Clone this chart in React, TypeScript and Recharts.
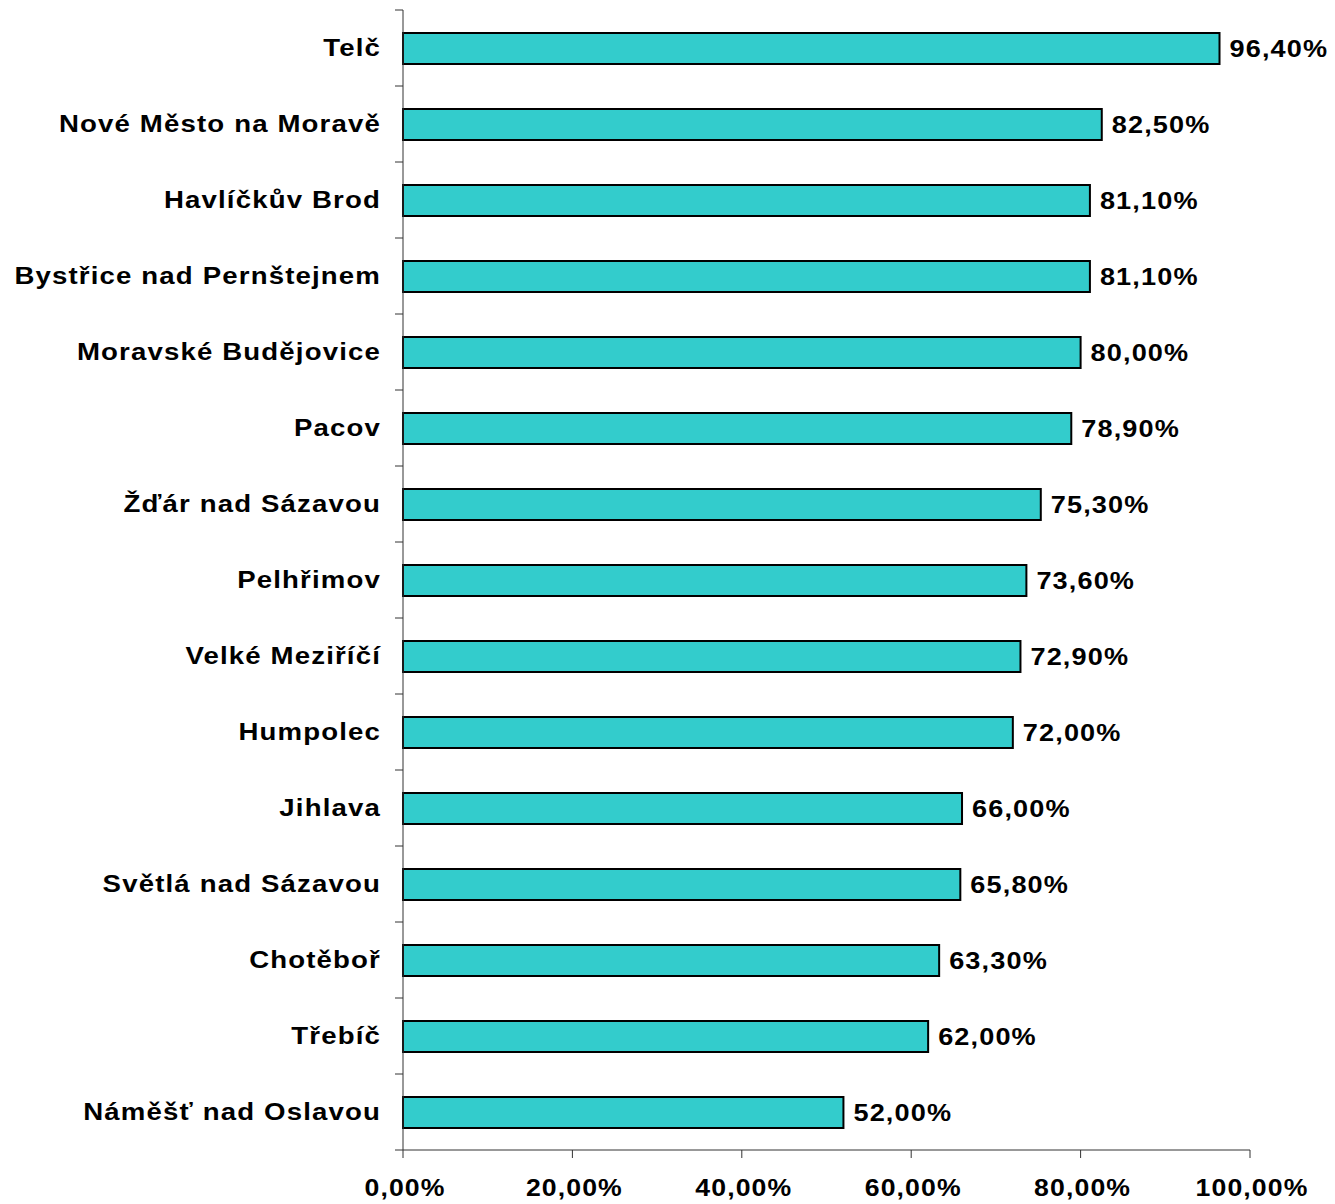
import React from 'react';
import { BarChart, Bar, XAxis, YAxis, LabelList } from 'recharts';

const towns = [
  'Telč',
  'Nové Město na Moravě',
  'Havlíčkův Brod',
  'Bystřice nad Pernštejnem',
  'Moravské Budějovice',
  'Pacov',
  'Žďár nad Sázavou',
  'Pelhřimov',
  'Velké Meziříčí',
  'Humpolec',
  'Jihlava',
  'Světlá nad Sázavou',
  'Chotěboř',
  'Třebíč',
  'Náměšť nad Oslavou',
];
const shares = [96.4, 82.5, 81.1, 81.1, 80.0, 78.9, 75.3, 73.6, 72.9, 72.0, 66.0, 65.8, 63.3, 62.0, 52.0];
const xTicks = [0, 20, 40, 60, 80, 100];

const data = towns.map((name, i) => ({ name, value: shares[i] }));

const W = 1335;
const H = 1204;
const TOP = 10;
const AXIS_X = 403;
const XAXIS_H = 54;
const PLOT_H = H - TOP - XAXIS_H;
const BAND = PLOT_H / towns.length;

const font = '"Liberation Sans", Arial, sans-serif';
const pct = (v: number) => v.toFixed(2).replace('.', ',') + '%';

// bold text stretched a little sideways, like the original export
const WideText = ({ x, y, anchor, sx = 1.13, children }: any) => (
  <text
    transform={`translate(${x},${y}) scale(${sx},1)`}
    textAnchor={anchor}
    fontFamily={font}
    fontWeight="bold"
    fontSize={24}
    letterSpacing={1}
    fill="#000"
  >
    {children}
  </text>
);

const CategoryTick = (props: any) => {
  const { x, y, payload, index } = props;
  return (
    <g>
      <line x1={AXIS_X - 8} x2={AXIS_X} y1={y - BAND / 2} y2={y - BAND / 2} stroke="#333" />
      {index === towns.length - 1 && (
        <line x1={AXIS_X - 8} x2={AXIS_X} y1={y + BAND / 2} y2={y + BAND / 2} stroke="#333" />
      )}
      <WideText x={x - 14} y={y + 8} anchor="end" sx={1.15}>
        {payload.value}
      </WideText>
    </g>
  );
};

const ValueTick = (props: any) => {
  const { x, y, payload } = props;
  return (
    <WideText x={x + 2} y={y + 36} anchor="middle" sx={1.11}>
      {pct(payload.value)}
    </WideText>
  );
};

const BarValue = (props: any) => {
  const { x, y, width, height, value } = props;
  return (
    <WideText x={x + width + 10} y={y + height / 2 + 8} anchor="start">
      {pct(Number(value))}
    </WideText>
  );
};

export default function App() {
  return (
    <div style={{ position: 'absolute', left: 0, top: 0, background: '#fff' }}>
      <BarChart
        width={W}
        height={H}
        data={data}
        layout="vertical"
        margin={{ top: TOP, right: W - 1250, bottom: 0, left: 0 }}
        barSize={31}
      >
        <XAxis
          type="number"
          domain={[0, 100]}
          ticks={xTicks}
          height={XAXIS_H}
          tickSize={8}
          stroke="#333"
          tick={<ValueTick />}
          interval={0}
        />
        <YAxis
          type="category"
          dataKey="name"
          width={AXIS_X}
          tickLine={false}
          stroke="#333"
          tick={<CategoryTick />}
          interval={0}
        />
        <Bar dataKey="value" fill="#33CCCC" stroke="#000" strokeWidth={2} isAnimationActive={false}>
          <LabelList dataKey="value" content={<BarValue />} />
        </Bar>
      </BarChart>
    </div>
  );
}
